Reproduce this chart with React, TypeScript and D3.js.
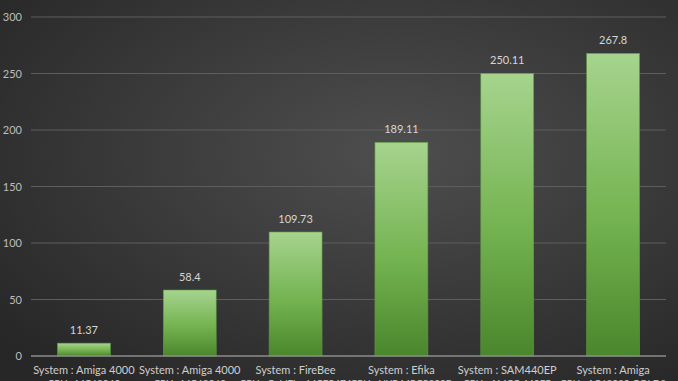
import React, { useEffect, useRef } from 'react';
import * as d3 from 'd3';

const systems = ['Amiga 4000', 'Amiga 4000', 'FireBee', 'Efika', 'SAM440EP', 'Amiga'];
const cpus = ['MC68040', 'MC68060', 'ColdFire MCF5474', 'NXP MPC5200B', 'AMCC 440EP', 'AC68080 GOLD3'];
const scores = [11.37, 58.4, 109.73, 189.11, 250.11, 267.8];
const yTicks = [0, 50, 100, 150, 200, 250, 300];

const App = () => {
  const ref = useRef<SVGSVGElement | null>(null);

  useEffect(() => {
    const width = 678;
    const height = 381;
    const margin = { top: 17, right: 12, bottom: 25, left: 31 };

    const svg = d3.select(ref.current);
    svg.selectAll('*').remove();

    const defs = svg.append('defs');
    const bg = defs.append('radialGradient')
      .attr('id', 'bg')
      .attr('cx', '58%').attr('cy', '40%').attr('r', '75%');
    bg.append('stop').attr('offset', '0%').attr('stop-color', '#4e4e4e');
    bg.append('stop').attr('offset', '100%').attr('stop-color', '#272727');

    const barGrad = defs.append('linearGradient')
      .attr('id', 'bar')
      .attr('x1', 0).attr('y1', 0).attr('x2', 0).attr('y2', 1);
    barGrad.append('stop').attr('offset', '0%').attr('stop-color', '#a6d48e');
    barGrad.append('stop').attr('offset', '55%').attr('stop-color', '#74b350');
    barGrad.append('stop').attr('offset', '100%').attr('stop-color', '#4a862c');

    svg.append('rect')
      .attr('width', width)
      .attr('height', height)
      .attr('fill', 'url(#bg)');

    const x = d3.scaleBand<number>()
      .domain(d3.range(scores.length))
      .range([margin.left, width - margin.right])
      .paddingInner(0.5)
      .paddingOuter(0.25);

    const y = d3.scaleLinear()
      .domain([0, 300])
      .range([height - margin.bottom, margin.top]);

    // gridlines + tick labels
    const grid = svg.append('g');
    grid.selectAll('line')
      .data(yTicks.filter(t => t > 0))
      .enter()
      .append('line')
      .attr('x1', margin.left)
      .attr('x2', width - margin.right)
      .attr('y1', d => y(d))
      .attr('y2', d => y(d))
      .attr('stroke', '#5e5e5e')
      .attr('stroke-width', 1);

    grid.selectAll('text')
      .data(yTicks)
      .enter()
      .append('text')
      .attr('x', 22)
      .attr('y', d => y(d) + 4)
      .attr('text-anchor', 'end')
      .attr('fill', '#bdbdbd')
      .style('font-family', 'Lato, "Open Sans", sans-serif')
      .style('font-size', '11px')
      .text(d => d);

    svg.selectAll('rect.bar')
      .data(scores)
      .enter()
      .append('rect')
      .attr('class', 'bar')
      .attr('x', (d, i) => x(i)!)
      .attr('y', d => y(d))
      .attr('width', x.bandwidth())
      .attr('height', d => y(0) - y(d))
      .attr('fill', 'url(#bar)')
      .attr('stroke', '#5f9a43')
      .attr('stroke-width', 0.6);

    // baseline
    svg.append('line')
      .attr('x1', margin.left)
      .attr('x2', width - margin.right)
      .attr('y1', y(0))
      .attr('y2', y(0))
      .attr('stroke', '#8c8c8c')
      .attr('stroke-width', 1.5);

    svg.selectAll('text.value')
      .data(scores)
      .enter()
      .append('text')
      .attr('class', 'value')
      .attr('x', (d, i) => x(i)! + x.bandwidth() / 2)
      .attr('y', d => y(d) - 9)
      .attr('text-anchor', 'middle')
      .attr('fill', '#d6d6d6')
      .style('font-family', 'Lato, "Open Sans", sans-serif')
      .style('font-size', '11px')
      .text(d => d);

    const cats = svg.selectAll('text.cat')
      .data(systems)
      .enter()
      .append('text')
      .attr('class', 'cat')
      .attr('text-anchor', 'middle')
      .attr('fill', '#cfcfcf')
      .style('font-family', 'Lato, "Open Sans", sans-serif')
      .style('font-size', '11px');

    cats.append('tspan')
      .attr('x', (d, i) => x(i)! + x.bandwidth() / 2)
      .attr('y', y(0) + 18)
      .text(d => `System : ${d}`);

    cats.append('tspan')
      .attr('x', (d, i) => x(i)! + x.bandwidth() / 2)
      .attr('y', y(0) + 31)
      .style('font-size', '10px')
      .text((d, i) => `CPU : ${cpus[i]}`);
  }, []);

  return (
    <svg
      ref={ref}
      width={678}
      height={381}
      style={{ position: 'absolute', left: 0, top: 0, display: 'block' }}
    />
  );
};

export default App;
